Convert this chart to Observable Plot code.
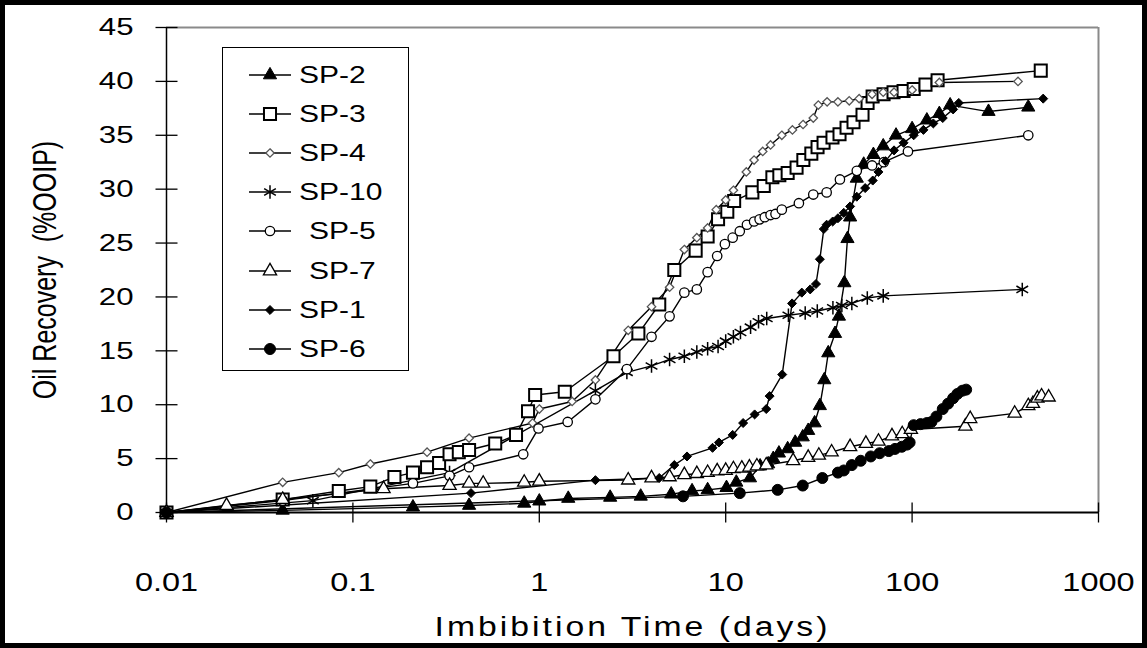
<!DOCTYPE html>
<html>
<head>
<meta charset="utf-8">
<script src="https://cdn.jsdelivr.net/npm/d3@7"></script>
<script src="https://cdn.jsdelivr.net/npm/@observablehq/plot@0.6"></script>
<style>
body{margin:0;background:#fff;}
#wrap{position:relative;width:1147px;height:648px;overflow:hidden;font-family:"Liberation Sans",Arial,sans-serif;background:#fff;}
#wrap svg.chart{position:absolute;left:0;top:0;display:block;}
#border{position:absolute;left:0;top:0;width:1147px;height:648px;box-sizing:border-box;border:5px solid #000;pointer-events:none;}
#legend{position:absolute;left:222px;top:47px;width:187px;height:324px;box-sizing:border-box;border:1.5px solid #000;background:#fff;}
.lg-item{position:absolute;left:0;width:100%;height:30px;}
.lg-item svg{position:absolute;left:24px;top:0;}
.lg-item span{position:absolute;top:0;line-height:30px;font-size:24px;color:#000;white-space:pre;display:inline-block;transform:scaleX(1.25);transform-origin:left center;}
</style>
</head>
<body>
<div id="wrap"></div>
<script>
// ---------------- data ----------------
const seriesNames = ["SP-2", "SP-3", "SP-4", "SP-10", "SP-5", "SP-7", "SP-1", "SP-6"];

const sp2 = [[0.01,0],[0.042,0.2],[0.21,0.5],[0.42,0.65],[0.83,0.85],[1.0,1.05],[1.43,1.3],[2.4,1.4],[3.5,1.5],[5.1,1.7],[6.6,2.0],[8.0,2.1],[10.1,2.3],[11.4,2.8],[13.5,3.2],[15.3,4.3],[16.9,4.5],[18.0,5.0],[19.3,5.5],[21.5,5.9],[23.6,6.5],[25.9,7.0],[27.7,7.6],[30,8.3],[32,9.9],[33.8,12.3],[35.5,14.8],[38.6,16.6],[40.5,18.2],[43.3,21.3],[45,25.4],[46.5,27.4],[50.5,31.0],[55,32.3],[62,33.2],[70,34.0],[82,35.0],[100,35.6],[120,36.4],[140,37.0],[160,37.8],[257,37.2],[420,37.6]];

const sp3 = [[0.01,0],[0.042,1.2],[0.084,2.0],[0.124,2.4],[0.167,3.3],[0.21,3.7],[0.25,4.2],[0.29,4.6],[0.33,5.4],[0.37,5.6],[0.42,5.8],[0.58,6.4],[0.75,7.2],[0.87,9.4],[0.95,10.9],[1.37,11.2],[2.5,14.5],[3.4,16.6],[4.4,19.3],[5.3,22.5],[6.9,24.3],[8.0,25.6],[9.1,27.2],[10.2,27.9],[11.1,28.9],[13.9,29.7],[16,30.3],[17.8,31.1],[19.4,31.3],[21.5,31.5],[24,32.0],[26.1,32.7],[28.8,33.3],[31.1,33.9],[33.5,34.3],[37.4,34.8],[40.8,35.1],[44.5,35.7],[48.5,36.2],[54.2,36.9],[57.7,38.0],[61.4,38.6],[70.3,38.8],[79.5,39.0],[90,39.1],[102,39.3],[118,39.7],[137,40.1],[490,41.0]];

const sp4 = [[0.01,0],[0.042,2.8],[0.084,3.7],[0.124,4.5],[0.25,5.6],[0.42,6.9],[0.92,8.3],[1.0,9.6],[1.5,10.3],[2.0,12.3],[3.0,16.9],[4.0,19.1],[5.0,20.9],[6.0,24.4],[7.0,25.5],[8.0,26.4],[8.9,28.1],[10,29.0],[11,29.9],[12.9,31.6],[14.2,32.7],[15.8,33.5],[17.4,34.1],[20,35.0],[22.8,35.5],[26,36.0],[29.5,36.6],[31.4,37.8],[35,38.1],[40,38.1],[46,38.2],[52,38.4],[61,38.8],[70,39.0],[80,39.0],[100,39.2],[140,39.9],[370,40.0]];

const sp10 = [[0.01,0],[0.061,1.1],[0.33,3.7],[2.0,11.3],[2.95,13.0],[4.0,13.6],[5.0,14.2],[6.0,14.5],[7.0,14.9],[8.0,15.2],[9.1,15.4],[10,15.9],[11,16.3],[12,16.7],[13.6,17.2],[15,17.7],[16.6,18.0],[21.7,18.3],[26.7,18.5],[31,18.7],[37.6,19.0],[42,19.2],[47.5,19.4],[57.5,19.9],[70,20.1],[390,20.7]];

const sp5 = [[0.01,0],[0.042,1.1],[0.21,2.7],[0.33,3.4],[0.42,4.2],[0.82,5.4],[0.99,7.8],[1.42,8.4],[2.0,10.5],[2.95,13.3],[4.0,16.3],[5.0,18.2],[6.0,20.4],[7.0,20.7],[8.0,22.3],[9.0,23.8],[9.9,24.9],[10.9,25.5],[11.9,26.1],[13.0,26.7],[14.2,27.0],[15.2,27.2],[16.2,27.4],[17.4,27.6],[18.5,27.7],[20,28.1],[24.7,28.7],[29.5,29.5],[34.8,29.7],[41,30.9],[50.5,31.7],[61,32.2],[70.5,32.5],[95,33.5],[420,35.0]];

const sp7 = [[0.01,0],[0.021,0.65],[0.042,1.2],[0.146,2.2],[0.33,2.5],[0.42,2.7],[0.5,2.7],[0.83,2.8],[1.0,2.9],[3.0,3.0],[4.0,3.2],[5.0,3.3],[6.0,3.5],[7.0,3.6],[8.0,3.7],[9.0,3.85],[10,3.9],[11,4.05],[12.2,4.1],[13.4,4.2],[14.7,4.3],[16.5,4.4],[23,4.8],[27.7,5.1],[31.6,5.3],[37,5.6],[46.5,6.1],[56.5,6.4],[66,6.6],[78,7.1],[88.5,7.3],[98.5,7.7],[193,8.0],[205,8.7],[355,9.2],[420,9.9],[445,10.1],[470,10.6],[495,10.8],[540,10.7]];

const sp1 = [[0.01,0],[0.43,1.8],[2.0,3.0],[4.4,3.2],[5.3,4.4],[6.2,5.2],[8.5,6.0],[9.2,6.5],[10.9,7.2],[12.4,8.3],[14.3,9.1],[16.5,9.6],[17.2,10.8],[20.1,12.8],[22.7,19.4],[25.6,20.4],[28.4,20.7],[30.5,21.2],[32,23.5],[33.6,26.3],[34.8,26.7],[37.5,27.0],[40,27.3],[43,27.8],[46.5,28.4],[50.5,29.3],[56,30.1],[61.5,30.8],[66,31.6],[72,32.6],[80,33.6],[90,34.3],[102,35.0],[115,35.5],[130,36.1],[146,36.6],[166,37.4],[178,38.0],[505,38.4]];

const sp6 = [[0.01,0],[5.9,1.5],[11.9,1.8],[19,2.1],[25.9,2.5],[33,3.2],[40,3.7],[43,3.9],[47.5,4.4],[53,4.8],[60,5.2],[67,5.5],[75,5.7],[81,5.9],[88,6.1],[94,6.3],[97,6.5],[102,8.1],[111,8.2],[120,8.3],[127,8.4],[135,8.9],[146,9.6],[156,10.1],[166,10.6],[175,11.0],[186,11.3],[195,11.4]];

const xTicks = [0.01, 0.1, 1, 10, 100, 1000];
const xTickLabels = ["0.01", "0.1", "1", "10", "100", "1000"];
const yTicks = [0, 5, 10, 15, 20, 25, 30, 35, 40, 45];
const xTitle = "Imbibition Time (days)";
const yTitle = "Oil Recovery  (%OOIP)";

// ---------------- styles ----------------
const diamondSym = {draw(ctx, size) { const s = Math.sqrt(size / Math.PI) * 1.05; ctx.moveTo(0, -s); ctx.lineTo(s, 0); ctx.lineTo(0, s); ctx.lineTo(-s, 0); ctx.closePath(); }};
const hTick = {draw(ctx) { ctx.moveTo(-11, 0); ctx.lineTo(11, 0); }};
const vTick = {draw(ctx) { ctx.moveTo(0, -10); ctx.lineTo(0, 10); }};

const seriesData = [sp2, sp3, sp4, sp10, sp5, sp7, sp1, sp6];
const styles = [
  {symbol: "triangle", d3sym: d3.symbolTriangle, r: 4.9, fill: "black", stroke: "black", sw: 1},
  {symbol: "square", d3sym: d3.symbolSquare, r: 6.8, fill: "white", stroke: "black", sw: 2},
  {symbol: diamondSym, d3sym: diamondSym, r: 4.0, fill: "white", stroke: "#555", sw: 1.3},
  {symbol: "asterisk", d3sym: d3.symbolAsterisk, r: 6.4, fill: "none", stroke: "black", sw: 1.5},
  {symbol: "circle", d3sym: d3.symbolCircle, r: 4.7, fill: "white", stroke: "black", sw: 1.3},
  {symbol: "triangle", d3sym: d3.symbolTriangle, r: 4.9, fill: "white", stroke: "black", sw: 1.3},
  {symbol: diamondSym, d3sym: diamondSym, r: 4.3, fill: "black", stroke: "black", sw: 1},
  {symbol: "circle", d3sym: d3.symbolCircle, r: 5.5, fill: "black", stroke: "black", sw: 1}
];

const X = d => d[0], Y = d => d[1];
const lineMarks = seriesData.map(s => Plot.line(s, {x: X, y: Y, stroke: "black", strokeWidth: 1.4}));
const dotMarks = seriesData.map((s, i) => Plot.dot(s, {x: X, y: Y, symbol: styles[i].symbol, r: styles[i].r, fill: styles[i].fill, stroke: styles[i].stroke, strokeWidth: styles[i].sw}));

const chart = Plot.plot({
  width: 1147, height: 648,
  marginLeft: 166, marginRight: 49, marginTop: 27, marginBottom: 136,
  x: {type: "log", domain: [0.01, 1000], axis: null},
  y: {domain: [0, 45], axis: null},
  style: {fontFamily: '"Liberation Sans", Arial, sans-serif', background: "white", color: "black", overflow: "visible"},
  marks: [
    Plot.ruleY([45], {stroke: "#8a8a8a", strokeWidth: 2}),
    Plot.ruleX([1000], {stroke: "#8a8a8a", strokeWidth: 2}),
    Plot.ruleX([0.01], {stroke: "black", strokeWidth: 1.5}),
    Plot.ruleY([0], {stroke: "black", strokeWidth: 1.8}),
    Plot.dot(yTicks, {y: d => d, frameAnchor: "left", symbol: hTick, r: 3, fill: "none", stroke: "black", strokeWidth: 1.3}),
    Plot.dot(xTicks, {x: d => d, frameAnchor: "bottom", symbol: vTick, r: 3, fill: "none", stroke: "black", strokeWidth: 1.3}),
    ...lineMarks,
    ...dotMarks,
    Plot.text(yTicks, {y: d => d, text: d => String(d), frameAnchor: "left", dx: -33, textAnchor: "end", lineAnchor: "middle", fontSize: 24, fill: "black"}),
    Plot.text(xTicks, {x: d => d, text: (d, i) => xTickLabels[i], frameAnchor: "bottom", dy: 70, textAnchor: "middle", lineAnchor: "middle", fontSize: 25, fill: "black"}),
    Plot.text([xTitle], {text: d => d, frameAnchor: "bottom", dy: 115, textAnchor: "middle", lineAnchor: "middle", fontSize: 27, fill: "black"}),
    Plot.text([yTitle], {text: d => d, frameAnchor: "left", dx: -121, rotate: -90, textAnchor: "middle", lineAnchor: "middle", fontSize: 25, fill: "black"})
  ]
});
chart.classList.add("chart");

// the reference figure is horizontally stretched: widen the glyphs the same way
d3.select(chart).selectAll("text").each(function() {
  const content = this.textContent;
  let sx = 1.3, sy = 1;
  if (content === yTitle) { sx = 1; sy = 1.3; }
  else if (content === xTitle) { sx = 1.25; sy = 1; this.setAttribute("letter-spacing", "2.4"); }
  const t = this.getAttribute("transform") || "";
  this.setAttribute("transform", `${t} scale(${sx},${sy})`);
});

const wrap = document.getElementById("wrap");
wrap.appendChild(chart);

// ---------------- legend ----------------
const legend = d3.select(wrap).append("div").attr("id", "legend");
seriesNames.forEach((name, i) => {
  const cy = 27 + i * 39.1;
  const st = styles[i];
  const item = legend.append("div").attr("class", "lg-item").style("top", (cy - 15) + "px");
  const s = item.append("svg").attr("width", 50).attr("height", 30);
  s.append("line").attr("x1", 2).attr("x2", 44).attr("y1", 15).attr("y2", 15).attr("stroke", "black").attr("stroke-width", 1.5);
  s.append("path")
    .attr("transform", "translate(23,15)")
    .attr("d", d3.symbol(st.d3sym, Math.PI * st.r * st.r)())
    .attr("fill", st.fill).attr("stroke", st.stroke).attr("stroke-width", st.sw);
  const indent = (name === "SP-5" || name === "SP-7") ? 86 : 76;
  item.append("span").style("left", indent + "px").text(name);
});

d3.select(wrap).append("div").attr("id", "border");
</script>
</body>
</html>
